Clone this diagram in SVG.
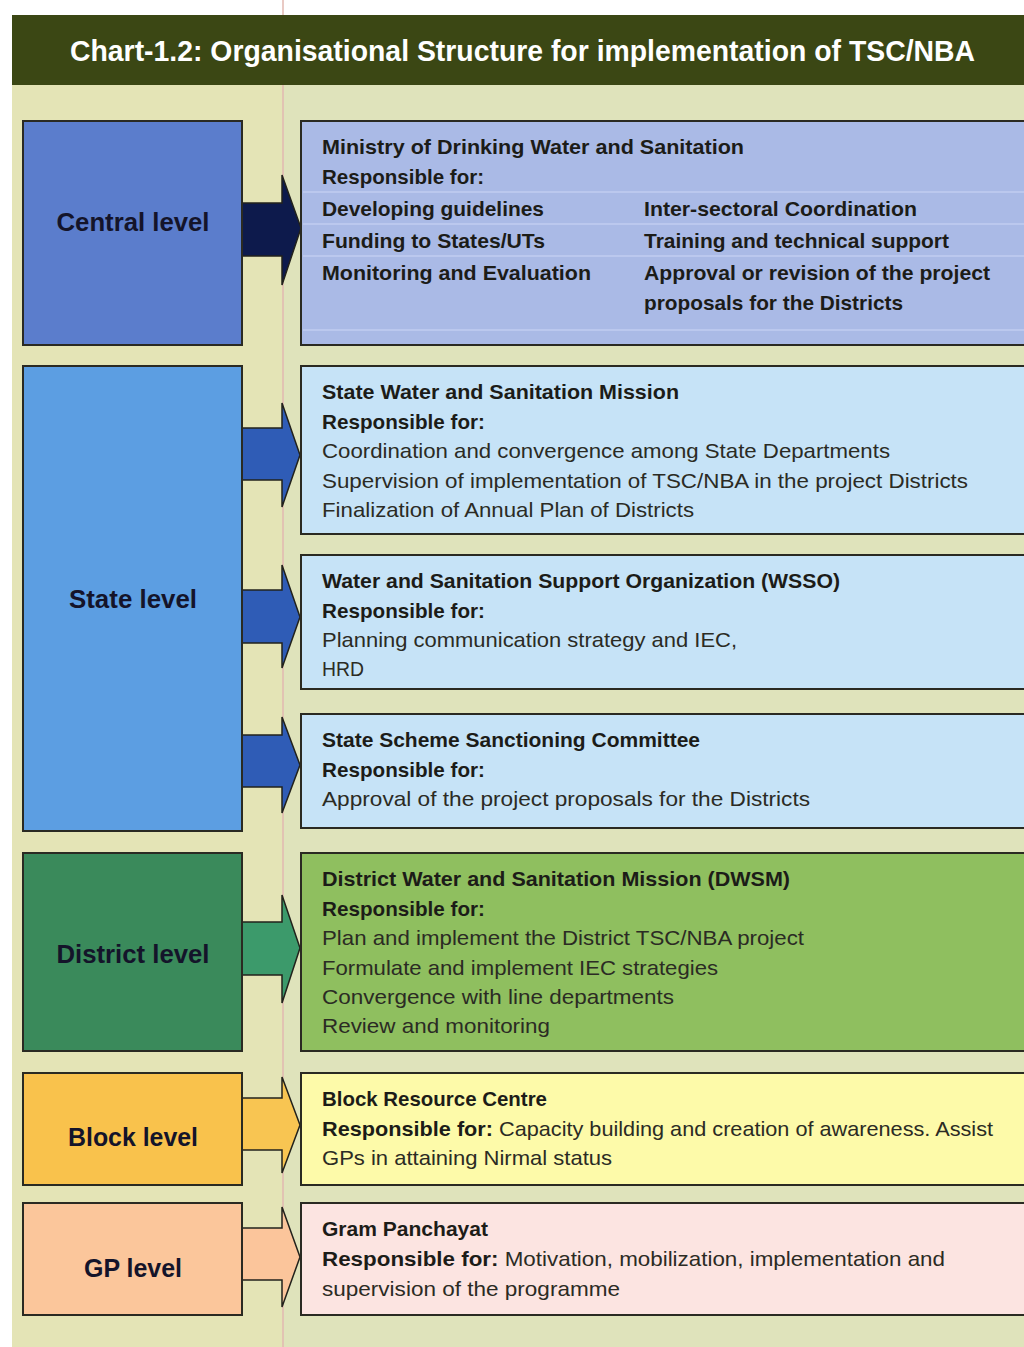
<svg xmlns="http://www.w3.org/2000/svg" width="1024" height="1347" viewBox="0 0 1024 1347">
<defs>
<style>
.t{font-family:"Liberation Sans",Arial,sans-serif;font-size:21px;fill:#2b2b24}
.b{font-weight:bold;fill:#1c1c18}
.lbl{font-family:"Liberation Sans",Arial,sans-serif;font-size:25px;font-weight:bold;fill:#14142a;text-anchor:middle}
.box{stroke:#2a2a22;stroke-width:2}
.arr{stroke:#22221c;stroke-width:1.5;stroke-linejoin:miter}
</style>
</defs>
<rect x="0" y="0" width="1024" height="1347" fill="#ffffff"/>
<rect x="12" y="15" width="1012" height="1332" fill="#dfe3bb"/>
<rect x="12" y="85" width="271" height="1262" fill="#e4e4b6"/>
<line x1="283" y1="0" x2="283" y2="1347" stroke="#e2b8b0" stroke-width="1.5"/>
<g id="title">
<rect x="12" y="15" width="1012" height="70" fill="#3b4714"/>
<text x="70" y="61" textLength="905" lengthAdjust="spacingAndGlyphs" style="font-family:'Liberation Sans',Arial,sans-serif;font-size:29px;font-weight:bold;fill:#ffffff">Chart-1.2: Organisational Structure for implementation of TSC/NBA</text>
</g>
<g id="connectors">
<polygon class="arr" fill="#0d1a4c" points="242,203 282,203 282,175 301,228 282,285 282,256 242,256"/>
<polygon class="arr" fill="#2f5cb6" points="242,428 282,428 282,403 300,455 282,507 282,480 242,480"/>
<polygon class="arr" fill="#2f5cb6" points="242,590 282,590 282,565 300,617 282,668 282,643 242,643"/>
<polygon class="arr" fill="#2f5cb6" points="242,735 282,735 282,717 300,765 282,813 282,787 242,787"/>
<polygon class="arr" fill="#3c9a6b" points="242,922 282,922 282,895 300,948 282,1003 282,975 242,975"/>
<polygon class="arr" fill="#f8c552" points="242,1098 282,1098 282,1077 300,1125 282,1173 282,1150 242,1150"/>
<polygon class="arr" fill="#fbc59b" points="242,1228 282,1228 282,1207 300,1257 282,1307 282,1280 242,1280"/>
</g>
<g id="central-level">
<rect class="box" x="23" y="121" width="219" height="224" fill="#5b7dcc"/>
<text class="lbl" x="133" y="231" textLength="153" lengthAdjust="spacingAndGlyphs">Central level</text>
</g>
<g id="state-level">
<rect class="box" x="23" y="366" width="219" height="465" fill="#5c9ee2"/>
<text class="lbl" x="133" y="608" textLength="128" lengthAdjust="spacingAndGlyphs">State level</text>
</g>
<g id="district-level">
<rect class="box" x="23" y="853" width="219" height="198" fill="#3a8a5b"/>
<text class="lbl" x="133" y="963" textLength="153" lengthAdjust="spacingAndGlyphs">District level</text>
</g>
<g id="block-level">
<rect class="box" x="23" y="1073" width="219" height="112" fill="#f9c24c"/>
<text class="lbl" x="133" y="1146" textLength="130" lengthAdjust="spacingAndGlyphs">Block level</text>
</g>
<g id="gp-level">
<rect class="box" x="23" y="1203" width="219" height="112" fill="#fbc69b"/>
<text class="lbl" x="133" y="1277" textLength="98" lengthAdjust="spacingAndGlyphs">GP level</text>
</g>
<g id="ministry">
<rect class="box" x="301" y="121" width="730" height="224" fill="#aabae6"/>
<g stroke="#c0cdf0" stroke-width="1.5">
<line x1="303" y1="192" x2="1024" y2="192"/>
<line x1="303" y1="224" x2="1024" y2="224"/>
<line x1="303" y1="256" x2="1024" y2="256"/>
<line x1="303" y1="330" x2="1024" y2="330"/>
</g>
<text class="t b" x="322" y="154" textLength="422" lengthAdjust="spacingAndGlyphs">Ministry of Drinking Water and Sanitation</text>
<text class="t b" x="322" y="184" textLength="162" lengthAdjust="spacingAndGlyphs">Responsible for:</text>
<text class="t b" x="322" y="216" textLength="222" lengthAdjust="spacingAndGlyphs">Developing guidelines</text>
<text class="t b" x="322" y="248" textLength="223" lengthAdjust="spacingAndGlyphs">Funding to States/UTs</text>
<text class="t b" x="322" y="280" textLength="269" lengthAdjust="spacingAndGlyphs">Monitoring and Evaluation</text>
<text class="t b" x="644" y="216" textLength="273" lengthAdjust="spacingAndGlyphs">Inter-sectoral Coordination</text>
<text class="t b" x="644" y="248" textLength="305" lengthAdjust="spacingAndGlyphs">Training and technical support</text>
<text class="t b" x="644" y="280" textLength="346" lengthAdjust="spacingAndGlyphs">Approval or revision of the project</text>
<text class="t b" x="644" y="310" textLength="259" lengthAdjust="spacingAndGlyphs">proposals for the Districts</text>
</g>
<g id="swsm">
<rect class="box" x="301" y="366" width="730" height="168" fill="#c6e3f7"/>
<text class="t b" x="322" y="399" textLength="357" lengthAdjust="spacingAndGlyphs">State Water and Sanitation Mission</text>
<text class="t b" x="322" y="429" textLength="163" lengthAdjust="spacingAndGlyphs">Responsible for:</text>
<text class="t" x="322" y="458" textLength="568" lengthAdjust="spacingAndGlyphs">Coordination and convergence among State Departments</text>
<text class="t" x="322" y="488" textLength="646" lengthAdjust="spacingAndGlyphs">Supervision of implementation of TSC/NBA in the project Districts</text>
<text class="t" x="322" y="517" textLength="372" lengthAdjust="spacingAndGlyphs">Finalization of Annual Plan of Districts</text>
</g>
<g id="wsso">
<rect class="box" x="301" y="555" width="730" height="134" fill="#c6e3f7"/>
<text class="t b" x="322" y="588" textLength="518" lengthAdjust="spacingAndGlyphs">Water and Sanitation Support Organization (WSSO)</text>
<text class="t b" x="322" y="618" textLength="163" lengthAdjust="spacingAndGlyphs">Responsible for:</text>
<text class="t" x="322" y="647" textLength="415" lengthAdjust="spacingAndGlyphs">Planning communication strategy and IEC,</text>
<text class="t" x="322" y="676" textLength="42" lengthAdjust="spacingAndGlyphs">HRD</text>
</g>
<g id="sssc">
<rect class="box" x="301" y="714" width="730" height="114" fill="#c6e3f7"/>
<text class="t b" x="322" y="747" textLength="378" lengthAdjust="spacingAndGlyphs">State Scheme Sanctioning Committee</text>
<text class="t b" x="322" y="777" textLength="163" lengthAdjust="spacingAndGlyphs">Responsible for:</text>
<text class="t" x="322" y="806" textLength="488" lengthAdjust="spacingAndGlyphs">Approval of the project proposals for the Districts</text>
</g>
<g id="dwsm">
<rect class="box" x="301" y="853" width="730" height="198" fill="#8fbf5f"/>
<text class="t b" x="322" y="886" textLength="468" lengthAdjust="spacingAndGlyphs">District Water and Sanitation Mission (DWSM)</text>
<text class="t b" x="322" y="916" textLength="163" lengthAdjust="spacingAndGlyphs">Responsible for:</text>
<text class="t" x="322" y="945" textLength="482" lengthAdjust="spacingAndGlyphs">Plan and implement the District TSC/NBA project</text>
<text class="t" x="322" y="975" textLength="396" lengthAdjust="spacingAndGlyphs">Formulate and implement IEC strategies</text>
<text class="t" x="322" y="1004" textLength="352" lengthAdjust="spacingAndGlyphs">Convergence with line departments</text>
<text class="t" x="322" y="1033" textLength="228" lengthAdjust="spacingAndGlyphs">Review and monitoring</text>
</g>
<g id="brc">
<rect class="box" x="301" y="1073" width="730" height="112" fill="#fdfaa9"/>
<text class="t b" x="322" y="1106" textLength="225" lengthAdjust="spacingAndGlyphs">Block Resource Centre</text>
<text class="t" x="322" y="1136" textLength="671" lengthAdjust="spacingAndGlyphs"><tspan class="b">Responsible for:</tspan> Capacity building and creation of awareness. Assist</text>
<text class="t" x="322" y="1165" textLength="290" lengthAdjust="spacingAndGlyphs">GPs in attaining Nirmal status</text>
</g>
<g id="gp">
<rect class="box" x="301" y="1203" width="730" height="112" fill="#fce4e1"/>
<text class="t b" x="322" y="1236" textLength="166" lengthAdjust="spacingAndGlyphs">Gram Panchayat</text>
<text class="t" x="322" y="1266" textLength="623" lengthAdjust="spacingAndGlyphs"><tspan class="b">Responsible for:</tspan> Motivation, mobilization, implementation and</text>
<text class="t" x="322" y="1296" textLength="298" lengthAdjust="spacingAndGlyphs">supervision of the programme</text>
</g>
</svg>
